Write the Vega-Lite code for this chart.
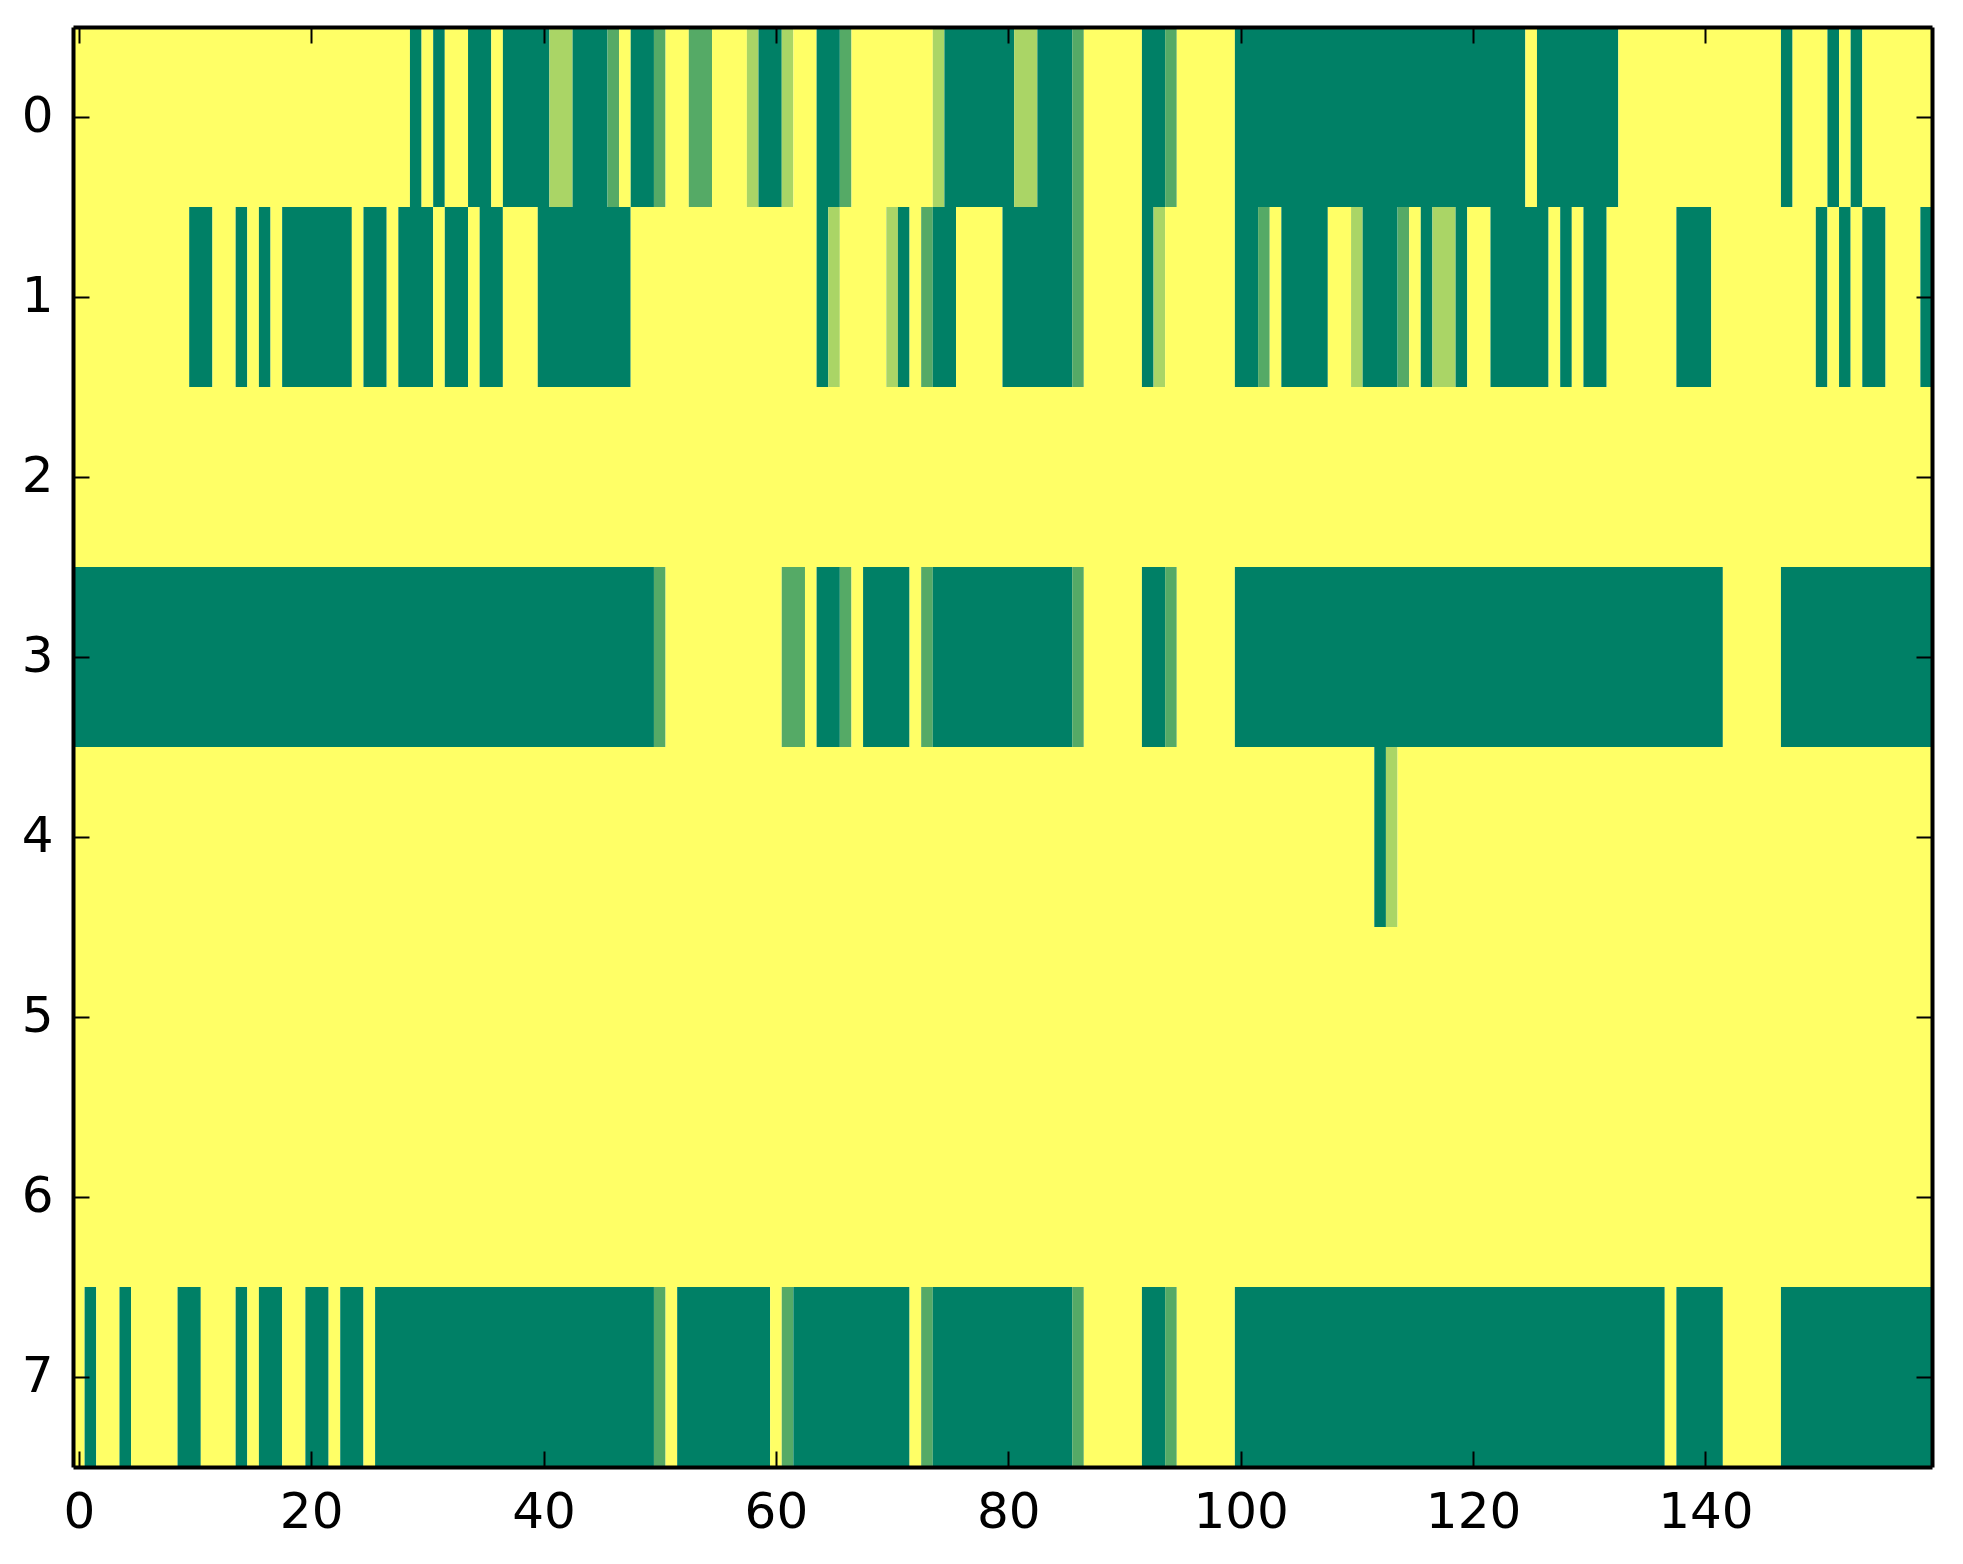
{
  "$schema": "https://vega.github.io/schema/vega-lite/v6.json",
  "width": 1859,
  "height": 1440,
  "autosize": {"type": "none"},
  "padding": {"left": 73, "top": 27, "right": 31, "bottom": 97},
  "background": "white",
  "config": {
    "view": {"stroke": null},
    "axis": {
      "domainColor": "black",
      "domainWidth": 4,
      "tickColor": "black",
      "tickWidth": 2,
      "tickSize": -16,
      "labelFont": "DejaVu Sans",
      "labelFontSize": 50,
      "labelColor": "black",
      "labelPadding": 36,
      "labelFlush": false,
      "labelOverlap": false,
      "grid": false,
      "title": null
    }
  },
  "data": {
    "values": [
      {"row": 0, "from": -0.5, "to": 28.5, "v": 1},
      {"row": 0, "from": 28.5, "to": 29.5, "v": 0},
      {"row": 0, "from": 29.5, "to": 30.5, "v": 1},
      {"row": 0, "from": 30.5, "to": 31.5, "v": 0},
      {"row": 0, "from": 31.5, "to": 33.5, "v": 1},
      {"row": 0, "from": 33.5, "to": 35.5, "v": 0},
      {"row": 0, "from": 35.5, "to": 36.5, "v": 1},
      {"row": 0, "from": 36.5, "to": 40.5, "v": 0},
      {"row": 0, "from": 40.5, "to": 42.5, "v": 0.667},
      {"row": 0, "from": 42.5, "to": 45.5, "v": 0},
      {"row": 0, "from": 45.5, "to": 46.5, "v": 0.333},
      {"row": 0, "from": 46.5, "to": 47.5, "v": 1},
      {"row": 0, "from": 47.5, "to": 49.5, "v": 0},
      {"row": 0, "from": 49.5, "to": 50.5, "v": 0.333},
      {"row": 0, "from": 50.5, "to": 52.5, "v": 1},
      {"row": 0, "from": 52.5, "to": 54.5, "v": 0.333},
      {"row": 0, "from": 54.5, "to": 57.5, "v": 1},
      {"row": 0, "from": 57.5, "to": 58.5, "v": 0.667},
      {"row": 0, "from": 58.5, "to": 60.5, "v": 0},
      {"row": 0, "from": 60.5, "to": 61.5, "v": 0.667},
      {"row": 0, "from": 61.5, "to": 63.5, "v": 1},
      {"row": 0, "from": 63.5, "to": 65.5, "v": 0},
      {"row": 0, "from": 65.5, "to": 66.5, "v": 0.333},
      {"row": 0, "from": 66.5, "to": 73.5, "v": 1},
      {"row": 0, "from": 73.5, "to": 74.5, "v": 0.667},
      {"row": 0, "from": 74.5, "to": 80.5, "v": 0},
      {"row": 0, "from": 80.5, "to": 82.5, "v": 0.667},
      {"row": 0, "from": 82.5, "to": 85.5, "v": 0},
      {"row": 0, "from": 85.5, "to": 86.5, "v": 0.333},
      {"row": 0, "from": 86.5, "to": 91.5, "v": 1},
      {"row": 0, "from": 91.5, "to": 93.5, "v": 0},
      {"row": 0, "from": 93.5, "to": 94.5, "v": 0.333},
      {"row": 0, "from": 94.5, "to": 99.5, "v": 1},
      {"row": 0, "from": 99.5, "to": 124.5, "v": 0},
      {"row": 0, "from": 124.5, "to": 125.5, "v": 1},
      {"row": 0, "from": 125.5, "to": 132.5, "v": 0},
      {"row": 0, "from": 132.5, "to": 146.5, "v": 1},
      {"row": 0, "from": 146.5, "to": 147.5, "v": 0},
      {"row": 0, "from": 147.5, "to": 150.5, "v": 1},
      {"row": 0, "from": 150.5, "to": 151.5, "v": 0},
      {"row": 0, "from": 151.5, "to": 152.5, "v": 1},
      {"row": 0, "from": 152.5, "to": 153.5, "v": 0},
      {"row": 0, "from": 153.5, "to": 159.5, "v": 1},

      {"row": 1, "from": -0.5, "to": 9.5, "v": 1},
      {"row": 1, "from": 9.5, "to": 11.5, "v": 0},
      {"row": 1, "from": 11.5, "to": 13.5, "v": 1},
      {"row": 1, "from": 13.5, "to": 14.5, "v": 0},
      {"row": 1, "from": 14.5, "to": 15.5, "v": 1},
      {"row": 1, "from": 15.5, "to": 16.5, "v": 0},
      {"row": 1, "from": 16.5, "to": 17.5, "v": 1},
      {"row": 1, "from": 17.5, "to": 23.5, "v": 0},
      {"row": 1, "from": 23.5, "to": 24.5, "v": 1},
      {"row": 1, "from": 24.5, "to": 26.5, "v": 0},
      {"row": 1, "from": 26.5, "to": 27.5, "v": 1},
      {"row": 1, "from": 27.5, "to": 30.5, "v": 0},
      {"row": 1, "from": 30.5, "to": 31.5, "v": 1},
      {"row": 1, "from": 31.5, "to": 33.5, "v": 0},
      {"row": 1, "from": 33.5, "to": 34.5, "v": 1},
      {"row": 1, "from": 34.5, "to": 36.5, "v": 0},
      {"row": 1, "from": 36.5, "to": 39.5, "v": 1},
      {"row": 1, "from": 39.5, "to": 47.5, "v": 0},
      {"row": 1, "from": 47.5, "to": 63.5, "v": 1},
      {"row": 1, "from": 63.5, "to": 64.5, "v": 0},
      {"row": 1, "from": 64.5, "to": 65.5, "v": 0.667},
      {"row": 1, "from": 65.5, "to": 69.5, "v": 1},
      {"row": 1, "from": 69.5, "to": 70.5, "v": 0.667},
      {"row": 1, "from": 70.5, "to": 71.5, "v": 0},
      {"row": 1, "from": 71.5, "to": 72.5, "v": 1},
      {"row": 1, "from": 72.5, "to": 73.5, "v": 0.333},
      {"row": 1, "from": 73.5, "to": 75.5, "v": 0},
      {"row": 1, "from": 75.5, "to": 79.5, "v": 1},
      {"row": 1, "from": 79.5, "to": 85.5, "v": 0},
      {"row": 1, "from": 85.5, "to": 86.5, "v": 0.333},
      {"row": 1, "from": 86.5, "to": 91.5, "v": 1},
      {"row": 1, "from": 91.5, "to": 92.5, "v": 0},
      {"row": 1, "from": 92.5, "to": 93.5, "v": 0.667},
      {"row": 1, "from": 93.5, "to": 99.5, "v": 1},
      {"row": 1, "from": 99.5, "to": 101.5, "v": 0},
      {"row": 1, "from": 101.5, "to": 102.5, "v": 0.333},
      {"row": 1, "from": 102.5, "to": 103.5, "v": 1},
      {"row": 1, "from": 103.5, "to": 107.5, "v": 0},
      {"row": 1, "from": 107.5, "to": 109.5, "v": 1},
      {"row": 1, "from": 109.5, "to": 110.5, "v": 0.667},
      {"row": 1, "from": 110.5, "to": 113.5, "v": 0},
      {"row": 1, "from": 113.5, "to": 114.5, "v": 0.333},
      {"row": 1, "from": 114.5, "to": 115.5, "v": 1},
      {"row": 1, "from": 115.5, "to": 116.5, "v": 0},
      {"row": 1, "from": 116.5, "to": 118.5, "v": 0.667},
      {"row": 1, "from": 118.5, "to": 119.5, "v": 0},
      {"row": 1, "from": 119.5, "to": 121.5, "v": 1},
      {"row": 1, "from": 121.5, "to": 126.5, "v": 0},
      {"row": 1, "from": 126.5, "to": 127.5, "v": 1},
      {"row": 1, "from": 127.5, "to": 128.5, "v": 0},
      {"row": 1, "from": 128.5, "to": 129.5, "v": 1},
      {"row": 1, "from": 129.5, "to": 131.5, "v": 0},
      {"row": 1, "from": 131.5, "to": 137.5, "v": 1},
      {"row": 1, "from": 137.5, "to": 140.5, "v": 0},
      {"row": 1, "from": 140.5, "to": 149.5, "v": 1},
      {"row": 1, "from": 149.5, "to": 150.5, "v": 0},
      {"row": 1, "from": 150.5, "to": 151.5, "v": 1},
      {"row": 1, "from": 151.5, "to": 152.5, "v": 0},
      {"row": 1, "from": 152.5, "to": 153.5, "v": 1},
      {"row": 1, "from": 153.5, "to": 155.5, "v": 0},
      {"row": 1, "from": 155.5, "to": 158.5, "v": 1},
      {"row": 1, "from": 158.5, "to": 159.5, "v": 0},

      {"row": 2, "from": -0.5, "to": 159.5, "v": 1},

      {"row": 3, "from": -0.5, "to": 49.5, "v": 0},
      {"row": 3, "from": 49.5, "to": 50.5, "v": 0.333},
      {"row": 3, "from": 50.5, "to": 60.5, "v": 1},
      {"row": 3, "from": 60.5, "to": 62.5, "v": 0.333},
      {"row": 3, "from": 62.5, "to": 63.5, "v": 1},
      {"row": 3, "from": 63.5, "to": 65.5, "v": 0},
      {"row": 3, "from": 65.5, "to": 66.5, "v": 0.333},
      {"row": 3, "from": 66.5, "to": 67.5, "v": 1},
      {"row": 3, "from": 67.5, "to": 71.5, "v": 0},
      {"row": 3, "from": 71.5, "to": 72.5, "v": 1},
      {"row": 3, "from": 72.5, "to": 73.5, "v": 0.333},
      {"row": 3, "from": 73.5, "to": 85.5, "v": 0},
      {"row": 3, "from": 85.5, "to": 86.5, "v": 0.333},
      {"row": 3, "from": 86.5, "to": 91.5, "v": 1},
      {"row": 3, "from": 91.5, "to": 93.5, "v": 0},
      {"row": 3, "from": 93.5, "to": 94.5, "v": 0.333},
      {"row": 3, "from": 94.5, "to": 99.5, "v": 1},
      {"row": 3, "from": 99.5, "to": 141.5, "v": 0},
      {"row": 3, "from": 141.5, "to": 146.5, "v": 1},
      {"row": 3, "from": 146.5, "to": 159.5, "v": 0},

      {"row": 4, "from": -0.5, "to": 111.5, "v": 1},
      {"row": 4, "from": 111.5, "to": 112.5, "v": 0},
      {"row": 4, "from": 112.5, "to": 113.5, "v": 0.667},
      {"row": 4, "from": 113.5, "to": 159.5, "v": 1},

      {"row": 5, "from": -0.5, "to": 159.5, "v": 1},

      {"row": 6, "from": -0.5, "to": 159.5, "v": 1},

      {"row": 7, "from": -0.5, "to": 0.5, "v": 1},
      {"row": 7, "from": 0.5, "to": 1.5, "v": 0},
      {"row": 7, "from": 1.5, "to": 3.5, "v": 1},
      {"row": 7, "from": 3.5, "to": 4.5, "v": 0},
      {"row": 7, "from": 4.5, "to": 8.5, "v": 1},
      {"row": 7, "from": 8.5, "to": 10.5, "v": 0},
      {"row": 7, "from": 10.5, "to": 13.5, "v": 1},
      {"row": 7, "from": 13.5, "to": 14.5, "v": 0},
      {"row": 7, "from": 14.5, "to": 15.5, "v": 1},
      {"row": 7, "from": 15.5, "to": 17.5, "v": 0},
      {"row": 7, "from": 17.5, "to": 19.5, "v": 1},
      {"row": 7, "from": 19.5, "to": 21.5, "v": 0},
      {"row": 7, "from": 21.5, "to": 22.5, "v": 1},
      {"row": 7, "from": 22.5, "to": 24.5, "v": 0},
      {"row": 7, "from": 24.5, "to": 25.5, "v": 1},
      {"row": 7, "from": 25.5, "to": 49.5, "v": 0},
      {"row": 7, "from": 49.5, "to": 50.5, "v": 0.333},
      {"row": 7, "from": 50.5, "to": 51.5, "v": 1},
      {"row": 7, "from": 51.5, "to": 59.5, "v": 0},
      {"row": 7, "from": 59.5, "to": 60.5, "v": 1},
      {"row": 7, "from": 60.5, "to": 61.5, "v": 0.333},
      {"row": 7, "from": 61.5, "to": 71.5, "v": 0},
      {"row": 7, "from": 71.5, "to": 72.5, "v": 1},
      {"row": 7, "from": 72.5, "to": 73.5, "v": 0.333},
      {"row": 7, "from": 73.5, "to": 85.5, "v": 0},
      {"row": 7, "from": 85.5, "to": 86.5, "v": 0.333},
      {"row": 7, "from": 86.5, "to": 91.5, "v": 1},
      {"row": 7, "from": 91.5, "to": 93.5, "v": 0},
      {"row": 7, "from": 93.5, "to": 94.5, "v": 0.333},
      {"row": 7, "from": 94.5, "to": 99.5, "v": 1},
      {"row": 7, "from": 99.5, "to": 136.5, "v": 0},
      {"row": 7, "from": 136.5, "to": 137.5, "v": 1},
      {"row": 7, "from": 137.5, "to": 141.5, "v": 0},
      {"row": 7, "from": 141.5, "to": 146.5, "v": 1},
      {"row": 7, "from": 146.5, "to": 159.5, "v": 0}
    ]
  },
  "layer": [
    {
      "mark": {"type": "rect", "strokeWidth": 0},
      "encoding": {
        "x": {
          "field": "from",
          "type": "quantitative",
          "scale": {"domain": [-0.5, 159.5], "nice": false, "zero": false},
          "axis": {"orient": "bottom", "values": [0, 20, 40, 60, 80, 100, 120, 140], "zindex": 2}
        },
        "x2": {"field": "to"},
        "y": {
          "field": "row",
          "type": "ordinal",
          "scale": {"domain": [0, 1, 2, 3, 4, 5, 6, 7], "paddingInner": 0, "paddingOuter": 0},
          "axis": {"orient": "left", "labelAngle": 0, "zindex": 2}
        },
        "color": {
          "field": "v",
          "type": "quantitative",
          "scale": {"domain": [0, 1], "range": ["#008066", "#ffff66"], "interpolate": "rgb"},
          "legend": null
        }
      }
    },
    {
      "mark": {"type": "rect", "opacity": 0},
      "encoding": {
        "x": {
          "field": "from",
          "type": "quantitative",
          "axis": {"orient": "top", "values": [0, 20, 40, 60, 80, 100, 120, 140], "labels": false, "zindex": 2}
        },
        "x2": {"field": "to"},
        "y": {
          "field": "row",
          "type": "ordinal",
          "axis": {"orient": "right", "labels": false, "zindex": 2}
        }
      }
    }
  ]
}
